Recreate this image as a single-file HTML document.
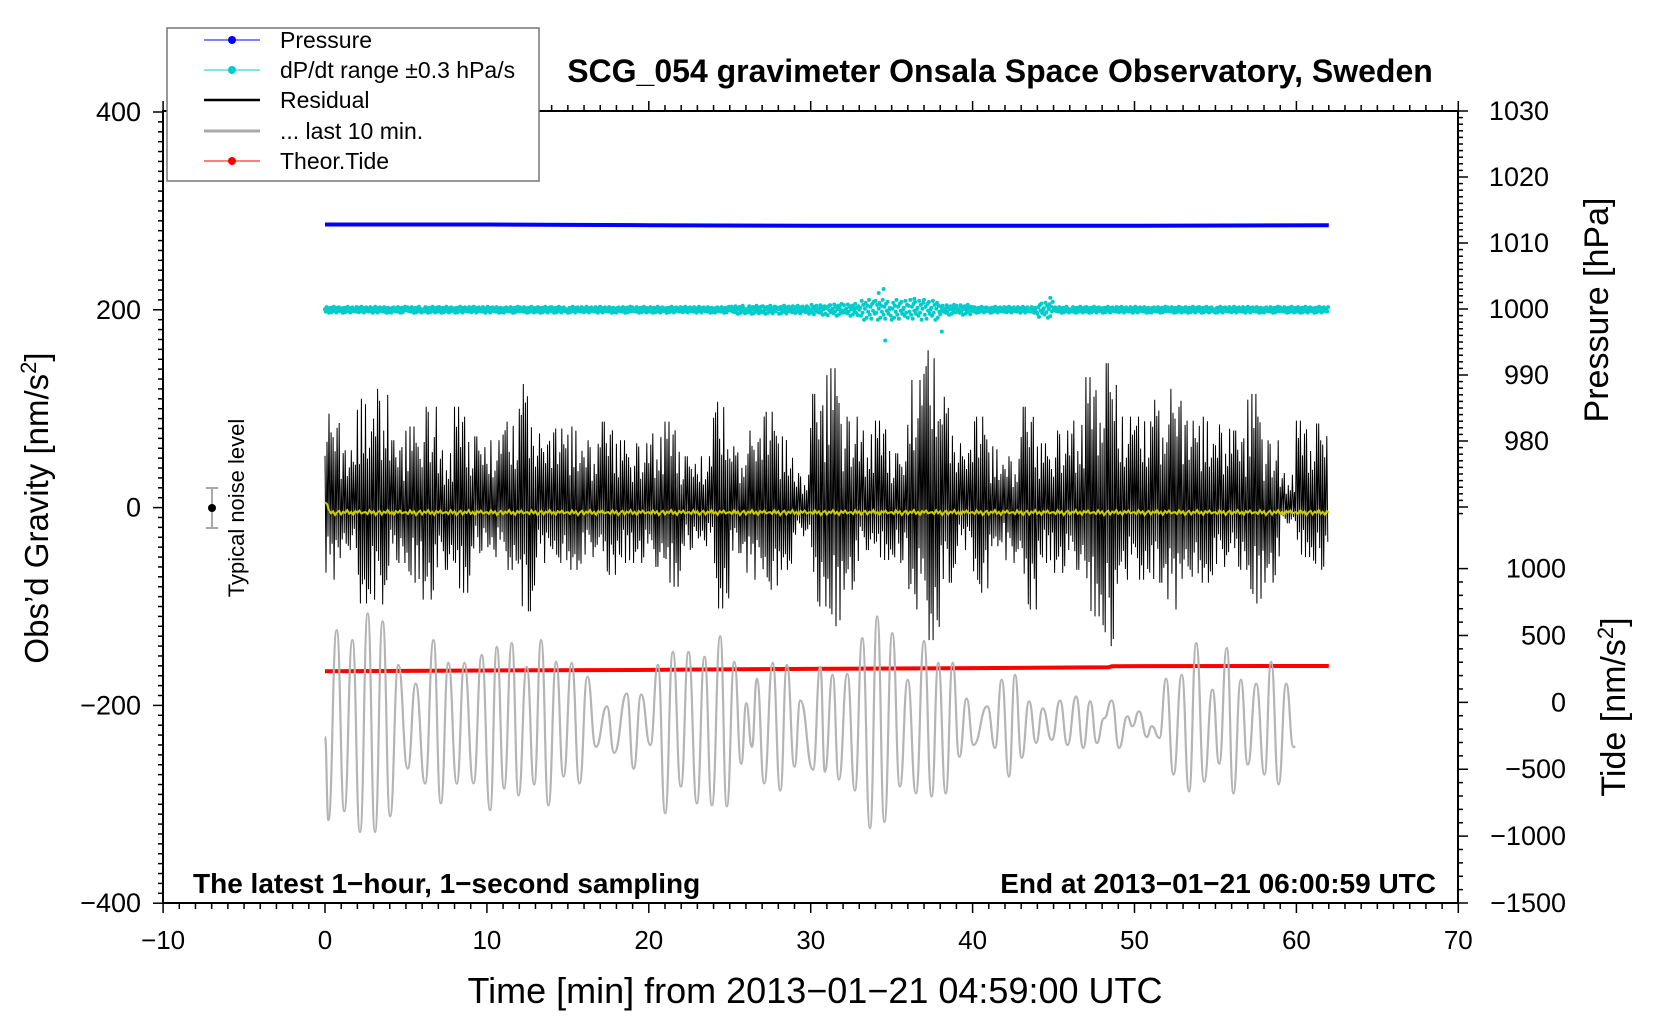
<!DOCTYPE html>
<html><head><meta charset="utf-8"><style>
html,body{margin:0;padding:0;background:#fff;}
svg{display:block;font-family:"Liberation Sans",sans-serif;}
</style></head><body>
<svg id="chart" width="1660" height="1020" viewBox="0 0 1660 1020" xmlns="http://www.w3.org/2000/svg">
<rect x="0" y="0" width="1660" height="1020" fill="#fff"/>
<g id="marks"></g>
<g id="axes"></g>
<rect x="163" y="111" width="1295" height="792" fill="none" stroke="#000" stroke-width="2"/>
<text x="1000" y="82" text-anchor="middle" font-size="32" font-weight="bold">SCG_054 gravimeter Onsala Space Observatory, Sweden</text>
<text x="193" y="893" font-size="28" font-weight="bold">The latest 1−hour, 1−second sampling</text>
<text x="1436" y="893" text-anchor="end" font-size="28" font-weight="bold">End at 2013−01−21 06:00:59 UTC</text>
<text x="815" y="1003" text-anchor="middle" font-size="36">Time [min] from 2013−01−21 04:59:00 UTC</text>
<text transform="translate(48,508) rotate(-90)" text-anchor="middle" font-size="33">Obs’d Gravity [nm/s<tspan font-size="22" dy="-12">2</tspan><tspan dy="12">]</tspan></text>
<text transform="translate(1608,310) rotate(-90)" text-anchor="middle" font-size="34">Pressure [hPa]</text>
<text transform="translate(1625,707) rotate(-90)" text-anchor="middle" font-size="34">Tide [nm/s<tspan font-size="22" dy="-12">2</tspan><tspan dy="12">]</tspan></text>
<g>
<line x1="212" y1="488" x2="212" y2="528" stroke="#aaa" stroke-width="2"/>
<line x1="206" y1="488" x2="218" y2="488" stroke="#aaa" stroke-width="2"/>
<line x1="206" y1="528" x2="218" y2="528" stroke="#aaa" stroke-width="2"/>
<circle cx="212" cy="508" r="4" fill="#000"/>
<text transform="translate(244,508) rotate(-90)" text-anchor="middle" font-size="22">Typical noise level</text>
</g>
<g>
<rect x="167" y="28" width="372" height="153" fill="#fff" stroke="#777" stroke-width="1.5"/>
<g><line x1="204" y1="40" x2="260" y2="40" stroke="#00f" stroke-width="1"/><circle cx="232" cy="40" r="4" fill="#00f"/><text x="280" y="48" font-size="23">Pressure</text></g>
<g><line x1="204" y1="70" x2="260" y2="70" stroke="#0cc" stroke-width="1"/><circle cx="232" cy="70" r="4" fill="#0cc"/><text x="280" y="78" font-size="23">dP/dt range ±0.3 hPa/s</text></g>
<g><line x1="204" y1="100" x2="260" y2="100" stroke="#000" stroke-width="2.5"/><text x="280" y="108" font-size="23">Residual</text></g>
<g><line x1="204" y1="131" x2="260" y2="131" stroke="#aaa" stroke-width="3"/><text x="280" y="139" font-size="23">... last 10 min.</text></g>
<g><line x1="204" y1="161" x2="260" y2="161" stroke="#f00" stroke-width="1"/><circle cx="232" cy="161" r="4" fill="#f00"/><text x="280" y="169" font-size="23">Theor.Tide</text></g>
</g>
</svg>
<script>
// ---- data ----
const xTicks = [-10,0,10,20,30,40,50,60,70];
const gravityTicks = [400,200,0,-200,-400];
const pressureTicks = [1030,1020,1010,1000,990,980];
const tideTicks = [1000,500,0,-500,-1000,-1500];
const pressureTimes = [0,10,20,30,40,50,62];
const pressureValues = [1012.8,1012.8,1012.7,1012.6,1012.6,1012.6,1012.7];
const tideTimes = [0,10,20,23,30,40,48.4,48.6,62];
const tideValues = [232,238,243,246,250,256,262,270,272];
const residualTop = [95,58,110,120,68,82,102,58,102,72,68,87,125,75,80,82,68,87,68,65,75,87,52,52,107,62,78,97,72,35,115,141,92,78,88,55,129,159,112,65,92,62,52,102,65,78,88,132,146,92,92,109,120,88,92,84,78,115,68,35,88,85];
const residualBottom = [-73,-43,-97,-98,-56,-76,-93,-63,-86,-46,-50,-63,-105,-56,-56,-63,-50,-68,-56,-56,-60,-80,-43,-39,-102,-46,-73,-83,-63,-29,-100,-120,-83,-43,-53,-56,-103,-134,-76,-43,-86,-39,-56,-103,-56,-66,-63,-110,-140,-73,-73,-76,-103,-70,-76,-60,-63,-97,-76,-16,-50,-63];
const dpdtSpread = [3,3,3,3,3,3,3,3,3,3,3,3,3,3,3,3,3,3,3,3,3,3,3,3,3,4,4,4,4,4,5,6,6,10,10,10,10,10,5,5,3,3,3,3,8,3,3,3,3,3,3,3,3,3,3,3,3,3,3,3,3,3];
const dpdtOutlierT = [34.5,34.6,34.2,36.4,38.1,44.8];
const dpdtOutlierV = [221,169,217,211,178,212];
const last10T = [0,0.21,0.72,1.19,1.69,2.16,2.64,3.09,3.56,4.02,4.53,5.11,5.60,6.18,6.70,7.15,7.62,8.14,8.61,9.17,9.68,10.20,10.61,11.06,11.54,11.95,12.46,12.92,13.35,13.80,14.28,14.73,15.24,15.72,16.21,16.73,17.41,17.86,18.64,19.06,19.53,20.09,20.56,21.01,21.49,21.98,22.45,22.97,23.44,23.90,24.41,24.82,25.28,25.71,26.02,26.37,26.68,27.13,27.65,28.12,28.53,29.00,29.36,30.14,30.59,30.88,31.35,31.74,32.26,32.73,33.19,33.66,34.11,34.55,35.04,35.51,35.99,36.50,37.0,37.47,37.88,38.34,38.77,39.18,39.63,40.05,40.91,41.39,41.80,42.25,42.62,43.03,43.49,43.92,44.33,44.89,45.40,45.86,46.39,46.84,47.26,47.67,48.12,48.60,49.05,49.56,49.87,50.28,50.76,51.07,51.54,51.95,52.41,52.92,53.37,53.81,54.30,54.82,55.23,55.70,56.11,56.57,57.00,57.52,58.03,58.44,58.90,59.37,59.82,59.93];
const last10V = [-232,-316,-124,-307,-134,-328,-107,-328,-115,-312,-159,-264,-178,-279,-134,-299,-157,-279,-157,-279,-149,-306,-141,-284,-137,-291,-161,-280,-134,-301,-156,-272,-157,-279,-171,-242,-201,-248,-188,-264,-189,-240,-159,-309,-146,-282,-146,-299,-151,-301,-130,-302,-156,-259,-198,-242,-173,-279,-157,-286,-159,-262,-195,-265,-161,-267,-169,-275,-168,-286,-132,-324,-110,-318,-127,-282,-174,-289,-135,-292,-157,-289,-157,-252,-193,-240,-201,-243,-174,-272,-169,-253,-196,-238,-203,-235,-195,-240,-191,-243,-196,-238,-213,-195,-243,-211,-221,-206,-232,-221,-233,-173,-270,-169,-287,-137,-277,-184,-259,-142,-289,-174,-260,-178,-270,-156,-280,-178,-242,-242];
const yellowLevel = -5;
// fixed texture patterns (not data)
const wig = [0.55,0.9,0.7,0.4,1.0,0.65,0.8,0.5,0.75,0.95,0.6,0.45,0.85];
const scat = [0.2,-0.6,0.9,-0.3,0.5,-1,0.1,0.7,-0.8,0.4,-0.2,1,-0.5,0.3,-0.9,0.6,-0.1,0.8,-0.4,0.0];

// ---- scales ----
const X = t => 325 + t*16.19;
const G = v => 507.6 - v*0.989;
const P = p => 309 + (1000-p)*6.6;
const T = v => 903 - (v+1500)*0.13376;
const NS='http://www.w3.org/2000/svg';
const marks=document.getElementById('marks'), axes=document.getElementById('axes');
function mk(tag,attrs,parent){const e=document.createElementNS(NS,tag);for(const k in attrs)e.setAttribute(k,attrs[k]);parent.appendChild(e);return e;}

// residual (black)
let pts=[];
const PER=16;
for(let m=0;m<residualTop.length;m++){
  for(let k=0;k<PER;k++){
    const t=m+k/PER, f=wig[(m*7+k)%wig.length];
    const v=(k%2===0)?residualTop[m]*(k===4?1:f):residualBottom[m]*(k===9?1:f);
    pts.push(X(t).toFixed(1)+','+G(v).toFixed(1));
  }
}
const res=mk('polyline',{points:pts.join(' '),fill:'none',stroke:'#000','stroke-width':1},marks);



// yellow smoothed residual
pts=[];
for(let i=0;i<=62*8;i++){const t=i/8;const v=(i<2?5:yellowLevel)+scat[i%scat.length]*2.5;pts.push(X(t).toFixed(1)+','+G(v).toFixed(1));}
const yl=mk('polyline',{points:pts.join(' '),fill:'none',stroke:'#cc0','stroke-width':2},marks);



// pressure (blue)
pts=pressureTimes.map((t,i)=>X(t).toFixed(1)+','+P(pressureValues[i]).toFixed(1));
const pl=mk('polyline',{points:pts.join(' '),fill:'none',stroke:'#00f','stroke-width':4},marks);



// dP/dt dots (cyan)
const dg=mk('g',{fill:'#0cc'},marks);


for(let m=0;m<dpdtSpread.length;m++){
  for(let j=0;j<20;j++){
    const t=m+j/20, v=200+dpdtSpread[m]*scat[(j+m*3)%scat.length];
    mk('circle',{cx:X(t).toFixed(1),cy:G(v).toFixed(1),r:2},dg);
  }
}
dpdtOutlierT.forEach((t,i)=>{mk('circle',{cx:X(t).toFixed(1),cy:G(dpdtOutlierV[i]).toFixed(1),r:2},dg);});

// tide (red)
pts=tideTimes.map((t,i)=>X(t).toFixed(1)+','+T(tideValues[i]).toFixed(1));
const tl=mk('polyline',{points:pts.join(' '),fill:'none',stroke:'#f00','stroke-width':4},marks);



// last 10 min (gray) smooth through extremes
let d='M'+X(last10T[0]).toFixed(1)+','+G(last10V[0]).toFixed(1);
for(let i=1;i<last10T.length;i++){
  const x0=X(last10T[i-1]),x1=X(last10T[i]),y0=G(last10V[i-1]),y1=G(last10V[i]);
  const cx=(x1-x0)/2;
  d+=' C'+(x0+cx).toFixed(1)+','+y0.toFixed(1)+' '+(x1-cx).toFixed(1)+','+y1.toFixed(1)+' '+x1.toFixed(1)+','+y1.toFixed(1);
}
const gl=mk('path',{d:d,fill:'none',stroke:'#b4b4b4','stroke-width':2.2},marks);



// ---- axes ----
const tk={stroke:'#000','stroke-width':1.5};
for(let t=-10;t<=70;t++){
  const x=X(t), L=(t%10===0)?10:6;
  mk('line',Object.assign({x1:x,y1:903,x2:x,y2:903+L},tk),axes);
  mk('line',Object.assign({x1:x,y1:111,x2:x,y2:111-L},tk),axes);
}
xTicks.forEach(t=>{const e=mk('text',{x:X(t),y:949,'text-anchor':'middle','font-size':26},axes);e.textContent=String(t).replace('-','−');
  
  });
for(let v=-400;v<=400;v+=10){const y=G(v),L=(v%200===0)?10:5;mk('line',Object.assign({x1:163,y1:y,x2:163-L,y2:y},tk),axes);}
gravityTicks.forEach(v=>{const e=mk('text',{x:141,y:G(v)+9,'text-anchor':'end','font-size':27},axes);e.textContent=String(v).replace('-','−');
  
  });
for(let p=1030;p>=969;p--){const y=P(p),L=(p%10===0)?10:5;mk('line',Object.assign({x1:1458,y1:y,x2:1458+L,y2:y},tk),axes);}
pressureTicks.forEach(p=>{const e=mk('text',{x:1549,y:P(p)+9,'text-anchor':'end','font-size':27},axes);e.textContent=String(p);
  
  });
for(let v=1000;v>=-1500;v-=100){const y=T(v),L=(v%500===0)?10:5;mk('line',Object.assign({x1:1458,y1:y,x2:1458+L,y2:y},tk),axes);}
tideTicks.forEach(v=>{const e=mk('text',{x:1566,y:T(v)+9,'text-anchor':'end','font-size':27},axes);e.textContent=String(v).replace('-','−');
  
  });
</script>
</body></html>
